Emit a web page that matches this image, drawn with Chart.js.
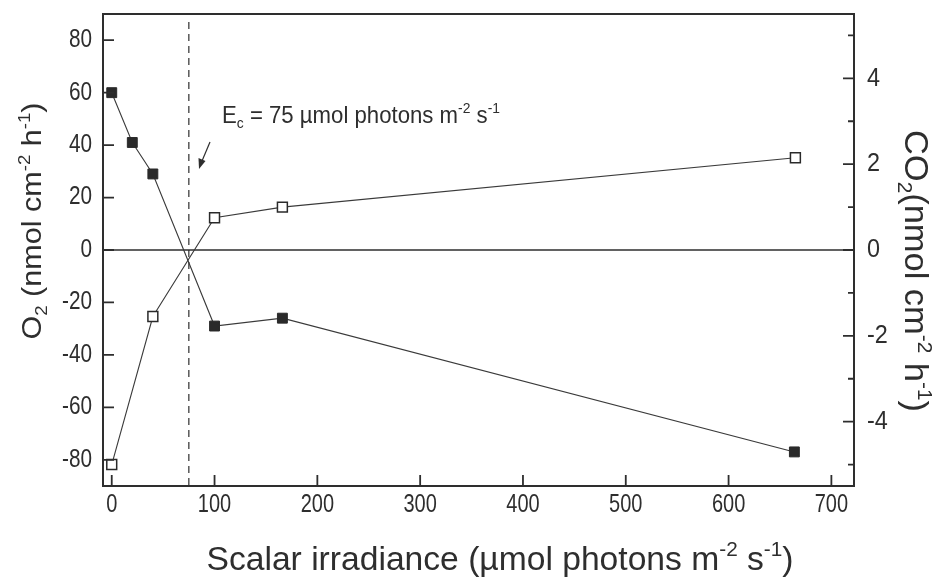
<!DOCTYPE html>
<html>
<head>
<meta charset="utf-8">
<script src="https://cdn.jsdelivr.net/npm/chart.js@4.4.0/dist/chart.umd.min.js"></script>
<style>
  html, body { margin: 0; padding: 0; background: #fff; }
  #wrap { width: 940px; height: 582px; }
</style>
</head>
<body>
<div id="wrap"><canvas id="chart"></canvas></div>
<script>
// data
var irradianceO2 = [0, 20, 40, 100, 166, 664];
var o2Flux = [60, 41, 29, -29, -26, -77];
var irradianceCO2 = [0, 40, 100, 166, 665];
var co2Flux = [-5.0, -1.55, 0.75, 1.0, 2.15];
var compensationPoint = 75;

var xTicks = [0, 100, 200, 300, 400, 500, 600, 700];
var o2Ticks = [-80, -60, -40, -20, 0, 20, 40, 60, 80];
var co2Ticks = [-4, -2, 0, 2, 4];
var co2MinorTicks = [-5, -3, -1, 1, 3, 5];

var ink = '#2e2e2e';
var fontName = '"Liberation Sans", Arial, sans-serif';

function toPoints(xs, ys) {
    return xs.map(function (x, i) { return { x: x, y: ys[i] }; });
}

// text with sub/superscripts: segments like ['E', {sub:'c'}, ' = 75']
function segText(seg) {
    return typeof seg === 'string' ? seg : (seg.sub || seg.sup);
}
function segFont(seg, size) {
    var s = typeof seg === 'string' ? size : Math.round(size * 0.62);
    return s + 'px ' + fontName;
}
function richWidth(ctx, segs, size) {
    var w = 0;
    segs.forEach(function (seg) {
        ctx.font = segFont(seg, size);
        w += ctx.measureText(segText(seg)).width;
    });
    return w;
}
function drawRich(ctx, segs, x, y, size, angle, target, align) {
    var w = richWidth(ctx, segs, size);
    var sq = target ? target / w : 1;
    ctx.save();
    ctx.translate(x, y);
    ctx.rotate(angle);
    ctx.scale(sq, 1);
    ctx.fillStyle = ink;
    ctx.textBaseline = 'alphabetic';
    ctx.textAlign = 'left';
    var cx = align === 'left' ? 0 : -w / 2;
    segs.forEach(function (seg) {
        var dy = 0;
        if (typeof seg !== 'string') {
            dy = seg.sub ? size * 0.2 : -size * 0.4;
        }
        ctx.font = segFont(seg, size);
        ctx.fillText(segText(seg), cx, dy);
        cx += ctx.measureText(segText(seg)).width;
    });
    ctx.restore();
}
function drawSqueezed(ctx, txt, x, y, size, sq, align, baseline) {
    ctx.save();
    ctx.translate(x, y);
    ctx.scale(sq, 1);
    ctx.font = size + 'px ' + fontName;
    ctx.fillStyle = ink;
    ctx.textAlign = align;
    ctx.textBaseline = baseline;
    ctx.fillText(txt, 0, 0);
    ctx.restore();
}

var framePlugin = {
    id: 'frame',
    beforeDatasetsDraw: function (chart) {
        var ctx = chart.ctx, a = chart.chartArea;
        var x = chart.scales.x, yL = chart.scales.yL;
        ctx.save();
        ctx.strokeStyle = ink;
        // zero line
        ctx.lineWidth = 1.6;
        var y0 = yL.getPixelForValue(0);
        ctx.beginPath();
        ctx.moveTo(a.left, y0);
        ctx.lineTo(a.right, y0);
        ctx.stroke();
        // compensation irradiance
        ctx.lineWidth = 1.2;
        ctx.setLineDash([7, 5]);
        var xc = x.getPixelForValue(compensationPoint);
        ctx.beginPath();
        ctx.moveTo(xc, a.top + 8);
        ctx.lineTo(xc, a.bottom);
        ctx.stroke();
        ctx.restore();
    },
    afterDraw: function (chart) {
        var ctx = chart.ctx, a = chart.chartArea;
        var x = chart.scales.x, yL = chart.scales.yL, yR = chart.scales.yR;
        ctx.save();
        ctx.strokeStyle = ink;
        ctx.lineWidth = 2;
        ctx.strokeRect(a.left, a.top, a.right - a.left, a.bottom - a.top);

        // inward ticks
        ctx.lineWidth = 1.8;
        ctx.beginPath();
        xTicks.forEach(function (v) {
            var p = x.getPixelForValue(v);
            ctx.moveTo(p, a.bottom);
            ctx.lineTo(p, a.bottom - 11);
        });
        o2Ticks.forEach(function (v) {
            var p = yL.getPixelForValue(v);
            ctx.moveTo(a.left, p);
            ctx.lineTo(a.left + 11, p);
        });
        co2Ticks.forEach(function (v) {
            var p = yR.getPixelForValue(v);
            ctx.moveTo(a.right, p);
            ctx.lineTo(a.right - 11, p);
        });
        co2MinorTicks.forEach(function (v) {
            var p = yR.getPixelForValue(v);
            ctx.moveTo(a.right, p);
            ctx.lineTo(a.right - 6, p);
        });
        ctx.stroke();

        // tick labels
        xTicks.forEach(function (v) {
            drawSqueezed(ctx, String(v), x.getPixelForValue(v), a.bottom + 7, 25, 0.8, 'center', 'top');
        });
        o2Ticks.forEach(function (v) {
            drawSqueezed(ctx, String(v), a.left - 11, yL.getPixelForValue(v), 25, 0.83, 'right', 'middle');
        });
        co2Ticks.forEach(function (v) {
            drawSqueezed(ctx, String(v), a.right + 13, yR.getPixelForValue(v), 26, 0.9, 'left', 'middle');
        });

        // axis titles
        drawRich(ctx, ['Scalar irradiance (\u00b5mol photons m', { sup: '-2' }, ' s', { sup: '-1' }, ')'],
            500, 570, 34, 0, 587);
        drawRich(ctx, ['O', { sub: '2' }, ' (nmol cm', { sup: '-2' }, ' h', { sup: '-1' }, ')'],
            41, 221, 28, -Math.PI / 2, 237);
        drawRich(ctx, ['CO', { sub: '2' }, '(nmol cm', { sup: '-2' }, ' h', { sup: '-1' }, ')'],
            905, 271, 33, Math.PI / 2, 282);

        // annotation + arrow
        drawRich(ctx, ['E', { sub: 'c' }, ' = 75 \u00b5mol photons m', { sup: '-2' }, ' s', { sup: '-1' }],
            222, 123, 24, 0, 278, 'left');
        ctx.lineWidth = 1.2;
        ctx.beginPath();
        ctx.moveTo(210, 142);
        ctx.lineTo(202, 161);
        ctx.stroke();
        ctx.fillStyle = ink;
        ctx.beginPath();
        ctx.moveTo(199, 169);
        ctx.lineTo(198.5, 158);
        ctx.lineTo(205.5, 161);
        ctx.closePath();
        ctx.fill();
        ctx.restore();
    }
};

new Chart(document.getElementById('chart'), {
    type: 'scatter',
    data: {
        datasets: [
            {
                label: 'O2',
                data: toPoints(irradianceO2, o2Flux),
                yAxisID: 'yL',
                showLine: true,
                borderColor: '#3a3a3a',
                borderWidth: 1.1,
                pointStyle: 'rect',
                pointRadius: 7,
                pointBackgroundColor: '#2a2a2a',
                pointBorderColor: '#2a2a2a',
                pointBorderWidth: 1
            },
            {
                label: 'CO2',
                data: toPoints(irradianceCO2, co2Flux),
                yAxisID: 'yR',
                showLine: true,
                borderColor: '#3a3a3a',
                borderWidth: 1.1,
                pointStyle: 'rect',
                pointRadius: 7,
                pointBackgroundColor: '#ffffff',
                pointBorderColor: '#2a2a2a',
                pointBorderWidth: 1.5
            }
        ]
    },
    options: {
        responsive: true,
        maintainAspectRatio: false,
        animation: false,
        layout: { padding: { top: 14, left: 0, right: 0, bottom: 0 } },
        plugins: {
            legend: { display: false },
            tooltip: { enabled: false }
        },
        scales: {
            x: {
                type: 'linear',
                position: 'bottom',
                min: -8.5,
                max: 722,
                grid: { display: false },
                border: { display: false },
                ticks: { display: false },
                afterFit: function (s) { s.height = 96; }
            },
            yL: {
                position: 'left',
                min: -90,
                max: 90,
                grid: { display: false },
                border: { display: false },
                ticks: { display: false },
                afterFit: function (s) { s.width = 103; }
            },
            yR: {
                position: 'right',
                min: -5.5,
                max: 5.5,
                grid: { display: false },
                border: { display: false },
                ticks: { display: false },
                afterFit: function (s) { s.width = 86; }
            }
        }
    },
    plugins: [framePlugin]
});
</script>
</body>
</html>
